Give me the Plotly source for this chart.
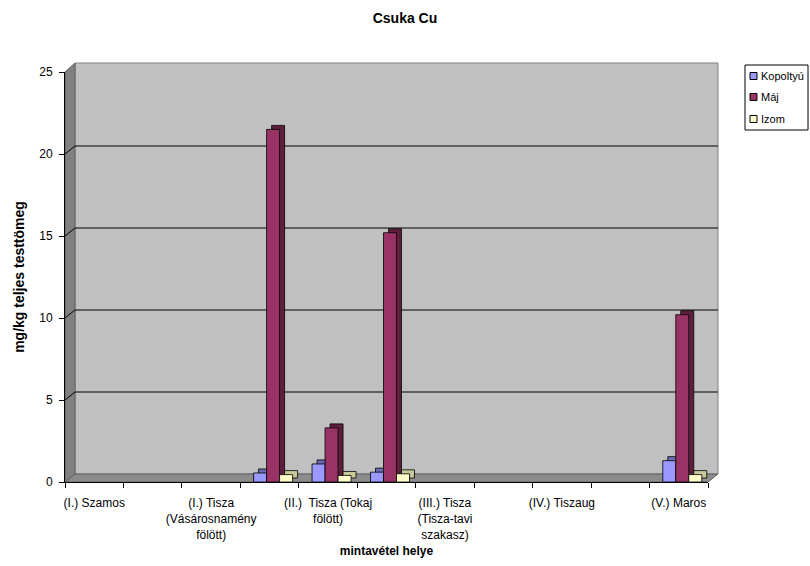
import plotly.graph_objects as go

# ---- data ----
categories = list(range(11))
tick_positions = [0, 2, 4, 6, 8, 10]
tick_labels = [
    "(I.) Szamos",
    "(I.) Tisza<br>(Vásárosnamény<br>fölött)",
    "(II.)  Tisza (Tokaj<br>fölött)",
    "(III.) Tisza<br>(Tisza-tavi<br>szakasz)",
    "(IV.) Tiszaug",
    "(V.) Maros",
]
series_names = ["Kopoltyú", "Máj", "Izom"]
kopoltyu = [None, None, None, 0.55, 1.1, 0.6, None, None, None, None, 1.3]
maj = [None, None, None, 21.5, 3.3, 15.2, None, None, None, None, 10.2]
izom = [None, None, None, 0.45, 0.4, 0.5, None, None, None, None, 0.45]
series_values = [kopoltyu, maj, izom]
series_colors = ["#9999FF", "#993366", "#FFFFCC"]
side_colors = ["#6B6BB3", "#5E1F3F", "#C8C89A"]
grid_values = [5, 10, 15, 20, 25]

FONT = "Liberation Sans, Arial, sans-serif"

# plot-area geometry (pixels)
L, R, T, B = 65, 102, 72, 84
W, H = 810, 566
pw, ph = W - L - R, H - T - B
cat_px = pw / 11.0
y_px = ph / 25.0
def px(x):
    return (x - L) / pw
def py(y):
    return (H - B - y) / ph

DX, DY = 10, 8      # wall depth in pixels
BDX, BDY = 5, 4     # bar depth in pixels
bar_w = 13.0 / cat_px
first_off = -16.0 / cat_px

fig = go.Figure()
# bar "depth" boxes (drawn first, behind the front faces)
for i, (vals, col) in enumerate(zip(series_values, side_colors)):
    fig.add_trace(go.Bar(
        x=categories, y=vals, base=BDY / y_px,
        width=bar_w, offset=first_off + i * bar_w + BDX / cat_px,
        marker=dict(color=col, line=dict(color="#000000", width=0.8)),
        showlegend=False, hoverinfo="skip",
    ))
# front faces
for i, (name, vals, col) in enumerate(zip(series_names, series_values, series_colors)):
    fig.add_trace(go.Bar(
        x=categories, y=vals, name=name,
        width=bar_w, offset=first_off + i * bar_w,
        marker=dict(color=col, line=dict(color="#000000", width=0.8)),
        showlegend=False,
    ))

shapes = []
# back wall
shapes.append(dict(type="rect", xref="paper", yref="paper",
                   x0=px(L + DX), x1=px(L + pw + DX), y0=py(H - B - DY), y1=py(T - 9),
                   fillcolor="#C0C0C0", line=dict(color="#808080", width=1), layer="below"))
# left side wall
shapes.append(dict(type="path", xref="paper", yref="paper",
                   path=f"M{px(L)},{py(H-B)} L{px(L)},{py(T)} L{px(L+DX)},{py(T-9)} L{px(L+DX)},{py(H-B-DY)} Z",
                   fillcolor="#808080", line=dict(color="#606060", width=1), layer="below"))
# floor
shapes.append(dict(type="path", xref="paper", yref="paper",
                   path=f"M{px(L)},{py(H-B)} L{px(L+DX)},{py(H-B-DY)} L{px(L+pw+DX)},{py(H-B-DY)} L{px(L+pw)},{py(H-B)} Z",
                   fillcolor="#8C8C8C", line=dict(color="#606060", width=1), layer="below"))
# gridlines on back wall, with diagonal on side wall
for v in grid_values[:-1]:
    shapes.append(dict(type="path", xref="paper", xsizemode="pixel", xanchor=0,
                       yref="y", ysizemode="pixel", yanchor=v,
                       path=f"M0,0 L{DX},{DY} L{pw + DX},{DY}",
                       line=dict(color="#000000", width=1), layer="below"))

# manual legend (box, swatches, labels)
leg_x0, leg_x1, leg_y0, leg_y1 = 745, 808, 65, 130
item_y = [76, 97, 119]
shapes.append(dict(type="rect", xref="paper", yref="paper",
                   x0=px(leg_x0), x1=px(leg_x1), y0=py(leg_y1), y1=py(leg_y0),
                   fillcolor="white", line=dict(color="#000000", width=1)))
annotations = []
for name, col, yy in zip(series_names, series_colors, item_y):
    shapes.append(dict(type="rect", xref="paper", yref="paper",
                       x0=px(750), x1=px(757), y0=py(yy + 3.5), y1=py(yy - 3.5),
                       fillcolor=col, line=dict(color="#000000", width=1)))
    annotations.append(dict(text=name, xref="paper", yref="paper", x=px(759), y=py(yy),
                            xanchor="left", yanchor="middle", showarrow=False,
                            font=dict(size=11, family=FONT, color="#000000")))

fig.update_layout(
    width=W, height=H,
    margin=dict(l=L, r=R, t=T, b=B, autoexpand=False),
    paper_bgcolor="white",
    plot_bgcolor="rgba(0,0,0,0)",
    barmode="overlay",
    font=dict(family=FONT, size=12, color="#000000"),
    title=dict(text="<b>Csuka Cu</b>", x=0.5, xref="container", y=1 - 18 / H, yref="container",
               yanchor="middle", xanchor="center", font=dict(size=14, family=FONT)),
    shapes=shapes,
    annotations=annotations,
    showlegend=False,
)
fig.update_xaxes(
    automargin=False,
    range=[-0.5, 10.5], tickmode="array", tickvals=tick_positions, ticktext=tick_labels,
    ticks="", showgrid=False, zeroline=False, showline=True, linecolor="#000000", linewidth=1,
    tickfont=dict(size=12), ticklabelstandoff=10,
    minor=dict(tickmode="linear", tick0=-0.5, dtick=1, ticks="outside", ticklen=5,
               tickcolor="#000000", showgrid=False),
    title=dict(text="<b>mintavétel helye</b>", font=dict(size=12), standoff=6),
)
fig.update_yaxes(
    automargin=False,
    range=[0, 25], tickmode="array", tickvals=[0, 5, 10, 15, 20, 25],
    ticks="outside", ticklen=5, tickcolor="#000000",
    showgrid=False, zeroline=False, showline=True, linecolor="#000000", linewidth=1,
    tickfont=dict(size=12), ticklabelstandoff=4,
    title=dict(text="<b>mg/kg teljes testtömeg</b>", font=dict(size=14), standoff=11),
)

fig.write_html("out.html")
